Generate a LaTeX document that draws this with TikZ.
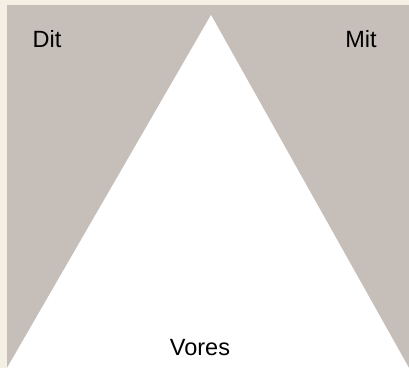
\documentclass[tikz,border=0pt]{standalone}
\usepackage{fontspec}
\setmainfont{Liberation Sans}
\definecolor{creambg}{RGB}{244,240,228}
\definecolor{greyfill}{RGB}{198,190,184}
\begin{document}
\begin{tikzpicture}[x=1pt,y=1pt,
  lbl/.style={font=\fontsize{23.5}{25}\selectfont, text=black, inner sep=0pt}]
\fill[creambg] (0,0) rectangle (409,368);
\useasboundingbox (0,0) rectangle (409,368);
\fill[greyfill] (7,0) rectangle (409,363);
\coordinate (bl) at (7,0);
\coordinate (apex) at (211,353);
\coordinate (br) at (409,0);
\fill[white] (bl) -- (apex) -- (br) -- cycle;
\node[lbl] (dit) at (47,329) {Dit};
\node[lbl] (mit) at (361,329) {Mit};
\node[lbl] (vores) at (200,20) {Vores};
\end{tikzpicture}
\end{document}
